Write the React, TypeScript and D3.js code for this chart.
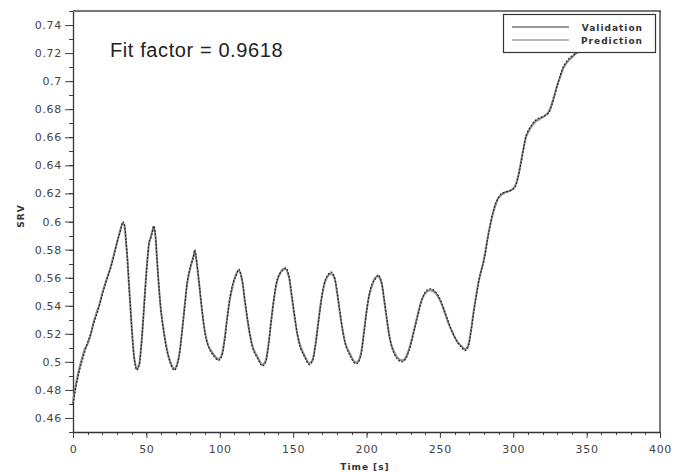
import React, { useRef, useEffect } from 'react';
import * as d3 from 'd3';

// values (time in s, SRV)
const validation: [number, number][] = [
  [0, 0.470], [2, 0.482], [4, 0.492], [6, 0.500], [8, 0.507], [10, 0.514], [12, 0.520],
  [14, 0.527], [16, 0.533], [18, 0.540], [20, 0.548], [22, 0.555], [24, 0.562], [26, 0.568],
  [28, 0.576], [30, 0.585], [32, 0.592], [34, 0.600], [35, 0.598], [36, 0.588], [37, 0.575],
  [38, 0.558], [39, 0.541], [40, 0.524], [41, 0.510], [42, 0.500], [43.5, 0.494], [45, 0.497],
  [46, 0.505], [47, 0.517], [48, 0.532], [49, 0.548], [50, 0.563], [51, 0.577], [52, 0.586],
  [53, 0.588], [54, 0.592], [55, 0.597], [56, 0.592], [57, 0.578], [58, 0.562], [59, 0.548],
  [60, 0.536], [62, 0.520], [64, 0.508], [66, 0.500], [68, 0.495], [69, 0.494], [70, 0.495],
  [72, 0.502], [74, 0.518], [76, 0.538], [78, 0.558], [80, 0.568], [82, 0.574], [83, 0.580],
  [84, 0.574], [86, 0.556], [88, 0.536], [90, 0.520], [92, 0.512], [94, 0.507], [96, 0.504],
  [99, 0.501], [101, 0.503], [103, 0.513], [105, 0.530], [107, 0.546], [109, 0.556], [111, 0.561],
  [113, 0.566], [115, 0.560], [117, 0.545], [119, 0.530], [121, 0.517], [123, 0.508], [126, 0.502],
  [129, 0.497], [131, 0.499], [133, 0.510], [135, 0.528], [137, 0.546], [139, 0.558], [141, 0.563],
  [143, 0.565], [145, 0.567], [147, 0.562], [149, 0.548], [151, 0.533], [153, 0.519], [155, 0.510],
  [158, 0.503], [161, 0.498], [163, 0.500], [165, 0.510], [167, 0.526], [169, 0.542], [171, 0.555],
  [173, 0.561], [176, 0.564], [178, 0.561], [180, 0.550], [182, 0.535], [184, 0.521], [186, 0.511],
  [189, 0.504], [192, 0.499], [194, 0.499], [196, 0.504], [198, 0.518], [200, 0.535], [202, 0.549],
  [204, 0.556], [206, 0.559], [208, 0.562], [210, 0.558], [212, 0.545], [214, 0.530], [216, 0.516],
  [218, 0.508], [221, 0.502], [224, 0.500], [226, 0.501], [229, 0.508], [232, 0.520], [235, 0.533],
  [238, 0.545], [241, 0.551], [244, 0.552], [247, 0.550], [250, 0.545], [253, 0.537], [256, 0.528],
  [259, 0.520], [262, 0.514], [265, 0.510], [267, 0.508], [269, 0.510], [271, 0.520], [273, 0.535],
  [275, 0.548], [277, 0.560], [280, 0.572], [283, 0.590], [286, 0.606], [288, 0.613], [290, 0.617],
  [292, 0.620], [295, 0.621], [298, 0.622], [301, 0.624], [303, 0.630], [305, 0.640], [307, 0.652],
  [309, 0.662], [312, 0.668], [315, 0.672], [318, 0.674], [321, 0.675], [324, 0.677], [326, 0.682],
  [328, 0.689], [330, 0.697], [332, 0.704], [334, 0.710], [337, 0.715], [340, 0.718], [343, 0.720],
  [346, 0.722], [350, 0.723],
];

const prediction: [number, number][] = [
  [0, 0.471], [2, 0.484], [4, 0.494], [6, 0.502], [8, 0.509], [10, 0.513], [12, 0.519],
  [14, 0.528], [16, 0.535], [18, 0.541], [20, 0.549], [22, 0.556], [24, 0.562], [26, 0.569],
  [28, 0.577], [30, 0.585], [32, 0.593], [34, 0.599], [35, 0.597], [36, 0.587], [37, 0.574],
  [38, 0.557], [39, 0.541], [40, 0.525], [41, 0.511], [42, 0.501], [43.5, 0.495], [45, 0.498],
  [46, 0.506], [47, 0.518], [48, 0.533], [49, 0.549], [50, 0.564], [51, 0.576], [52, 0.585],
  [53, 0.589], [54, 0.593], [55, 0.596], [56, 0.591], [57, 0.577], [58, 0.561], [59, 0.547],
  [60, 0.536], [62, 0.521], [64, 0.509], [66, 0.501], [68, 0.496], [69, 0.495], [70, 0.496],
  [72, 0.503], [74, 0.519], [76, 0.539], [78, 0.557], [80, 0.567], [82, 0.575], [83, 0.579],
  [84, 0.573], [86, 0.555], [88, 0.536], [90, 0.521], [92, 0.512], [94, 0.508], [96, 0.505],
  [99, 0.502], [101, 0.504], [103, 0.514], [105, 0.531], [107, 0.545], [109, 0.555], [111, 0.562],
  [113, 0.565], [115, 0.559], [117, 0.544], [119, 0.529], [121, 0.517], [123, 0.509], [126, 0.503],
  [129, 0.498], [131, 0.500], [133, 0.511], [135, 0.529], [137, 0.545], [139, 0.557], [141, 0.563],
  [143, 0.566], [145, 0.566], [147, 0.561], [149, 0.547], [151, 0.532], [153, 0.519], [155, 0.511],
  [158, 0.504], [161, 0.499], [163, 0.501], [165, 0.511], [167, 0.527], [169, 0.543], [171, 0.554],
  [173, 0.560], [176, 0.563], [178, 0.560], [180, 0.549], [182, 0.534], [184, 0.521], [186, 0.512],
  [189, 0.505], [192, 0.500], [194, 0.500], [196, 0.505], [198, 0.519], [200, 0.536], [202, 0.548],
  [204, 0.555], [206, 0.560], [208, 0.561], [210, 0.557], [212, 0.544], [214, 0.529], [216, 0.516],
  [218, 0.509], [221, 0.503], [224, 0.501], [226, 0.502], [229, 0.509], [232, 0.521], [235, 0.534],
  [238, 0.545], [241, 0.550], [244, 0.551], [247, 0.549], [250, 0.544], [253, 0.536], [256, 0.527],
  [259, 0.520], [262, 0.514], [265, 0.511], [267, 0.509], [269, 0.511], [271, 0.521], [273, 0.536],
  [275, 0.549], [277, 0.560], [280, 0.573], [283, 0.591], [286, 0.605], [288, 0.612], [290, 0.617],
  [292, 0.619], [295, 0.621], [298, 0.622], [301, 0.625], [303, 0.631], [305, 0.641], [307, 0.652],
  [309, 0.661], [312, 0.667], [315, 0.671], [318, 0.673], [321, 0.675], [324, 0.678], [326, 0.683],
  [328, 0.690], [330, 0.697], [332, 0.703], [334, 0.709], [337, 0.714], [340, 0.717], [343, 0.720],
  [346, 0.721], [350, 0.722],
];

const xTicks = [0, 50, 100, 150, 200, 250, 300, 350, 400];
const yTicks = [0.46, 0.48, 0.5, 0.52, 0.54, 0.56, 0.58, 0.6, 0.62, 0.64, 0.66, 0.68, 0.7, 0.72, 0.74];
const seriesNames = ['Validation', 'Prediction'];
const fitText = 'Fit factor = 0.9618';

const W = 683;
const H = 472;
const left = 73, right = 660, top = 11, bottom = 432;

const Chart = () => {
  const ref = useRef<SVGSVGElement>(null);

  useEffect(() => {
    const svg = d3.select(ref.current);
    svg.selectAll('*').remove();

    const x = d3.scaleLinear().domain([0, 400]).range([left, right]);
    const y = d3.scaleLinear().domain([0.45, 0.75]).range([bottom, top]);

    svg.append('rect').attr('width', W).attr('height', H).attr('fill', '#fff');

    // minor ticks
    const minor = svg.append('g').attr('stroke', '#444').attr('stroke-width', 1);
    d3.range(0.45, 0.7501, 0.01).forEach(v => {
      minor.append('line').attr('x1', left - 4).attr('x2', left)
        .attr('y1', Math.round(y(v)) + 0.5).attr('y2', Math.round(y(v)) + 0.5);
    });
    d3.range(0, 401, 10).forEach(v => {
      minor.append('line').attr('y1', bottom).attr('y2', bottom + 3)
        .attr('x1', Math.round(x(v)) + 0.5).attr('x2', Math.round(x(v)) + 0.5);
    });

    const styleAxis = (g: any) => {
      g.selectAll('path').attr('stroke', '#333').attr('stroke-width', 1.3);
      g.selectAll('line').attr('stroke', '#444');
      g.selectAll('text')
        .attr('fill', '#444')
        .style('font-family', '"DejaVu Sans", Verdana, sans-serif')
        .style('font-size', '11px')
        .style('letter-spacing', '0.7px');
    };

    svg.append('g')
      .attr('transform', `translate(${left},0)`)
      .call(d3.axisLeft(y).tickValues(yTicks).tickSize(8).tickSizeOuter(0).tickPadding(3)
        .tickFormat(d => d3.format('')(+d)))
      .call(styleAxis);

    svg.append('g')
      .attr('transform', `translate(0,${bottom})`)
      .call(d3.axisBottom(x).tickValues(xTicks).tickSize(6).tickSizeOuter(0).tickPadding(7))
      .call(styleAxis);

    // frame: top and right
    svg.append('line').attr('x1', left).attr('x2', right + 1).attr('y1', top).attr('y2', top)
      .attr('stroke', '#777').attr('stroke-width', 2);
    svg.append('line').attr('x1', right).attr('x2', right).attr('y1', top).attr('y2', bottom)
      .attr('stroke', '#333').attr('stroke-width', 1.3);

    const line = d3.line<[number, number]>()
      .x(d => x(d[0]))
      .y(d => y(d[1]))
      .curve(d3.curveCatmullRom.alpha(0.5));

    svg.append('path').datum(prediction).attr('d', line)
      .attr('fill', 'none').attr('stroke', '#8a8a8a').attr('stroke-width', 2);
    svg.append('path').datum(validation).attr('d', line)
      .attr('fill', 'none').attr('stroke', '#222').attr('stroke-width', 1.2)
      .attr('stroke-dasharray', '2,1.5');

    // fit factor annotation
    svg.append('text').attr('x', 110).attr('y', 57)
      .style('font-family', '"Liberation Sans", Arial, sans-serif')
      .style('font-size', '20px')
      .style('letter-spacing', '0.6px')
      .attr('fill', '#222')
      .text(fitText);

    // legend
    const lg = svg.append('g');
    lg.append('rect').attr('x', 503.5).attr('y', 14.5).attr('width', 152).attr('height', 38)
      .attr('fill', '#fff').attr('stroke', '#333').attr('stroke-width', 1.2);
    const legendColors = ['#333', '#777'];
    seriesNames.forEach((name, i) => {
      const ly = 27 + i * 13;
      lg.append('line').attr('x1', 512).attr('x2', 569).attr('y1', ly).attr('y2', ly)
        .attr('stroke', legendColors[i]).attr('stroke-width', 1.2);
      lg.append('text').attr('x', 643).attr('y', ly + 3.5).attr('text-anchor', 'end')
        .style('font-family', '"DejaVu Sans", Verdana, sans-serif')
        .style('font-size', '9px').style('font-weight', 'bold')
        .style('letter-spacing', '1px')
        .attr('fill', '#333')
        .text(name);
    });

    // axis titles
    svg.append('text').attr('x', 365).attr('y', 470).attr('text-anchor', 'middle')
      .style('font-family', '"DejaVu Sans", Verdana, sans-serif')
      .style('font-size', '9px').style('font-weight', 'bold').style('letter-spacing', '1px')
      .attr('fill', '#333').text('Time [s]');
    svg.append('text').attr('transform', 'translate(24,216) rotate(-90)').attr('text-anchor', 'middle')
      .style('font-family', '"DejaVu Sans", Verdana, sans-serif')
      .style('font-size', '9px').style('font-weight', 'bold').style('letter-spacing', '1px')
      .attr('fill', '#333').text('SRV');
  }, []);

  return <svg ref={ref} width={W} height={H} style={{ display: 'block' }}></svg>;
};

export default function App() {
  return (
    <div style={{ position: 'absolute', left: 0, top: 0 }}>
      <Chart />
    </div>
  );
}
